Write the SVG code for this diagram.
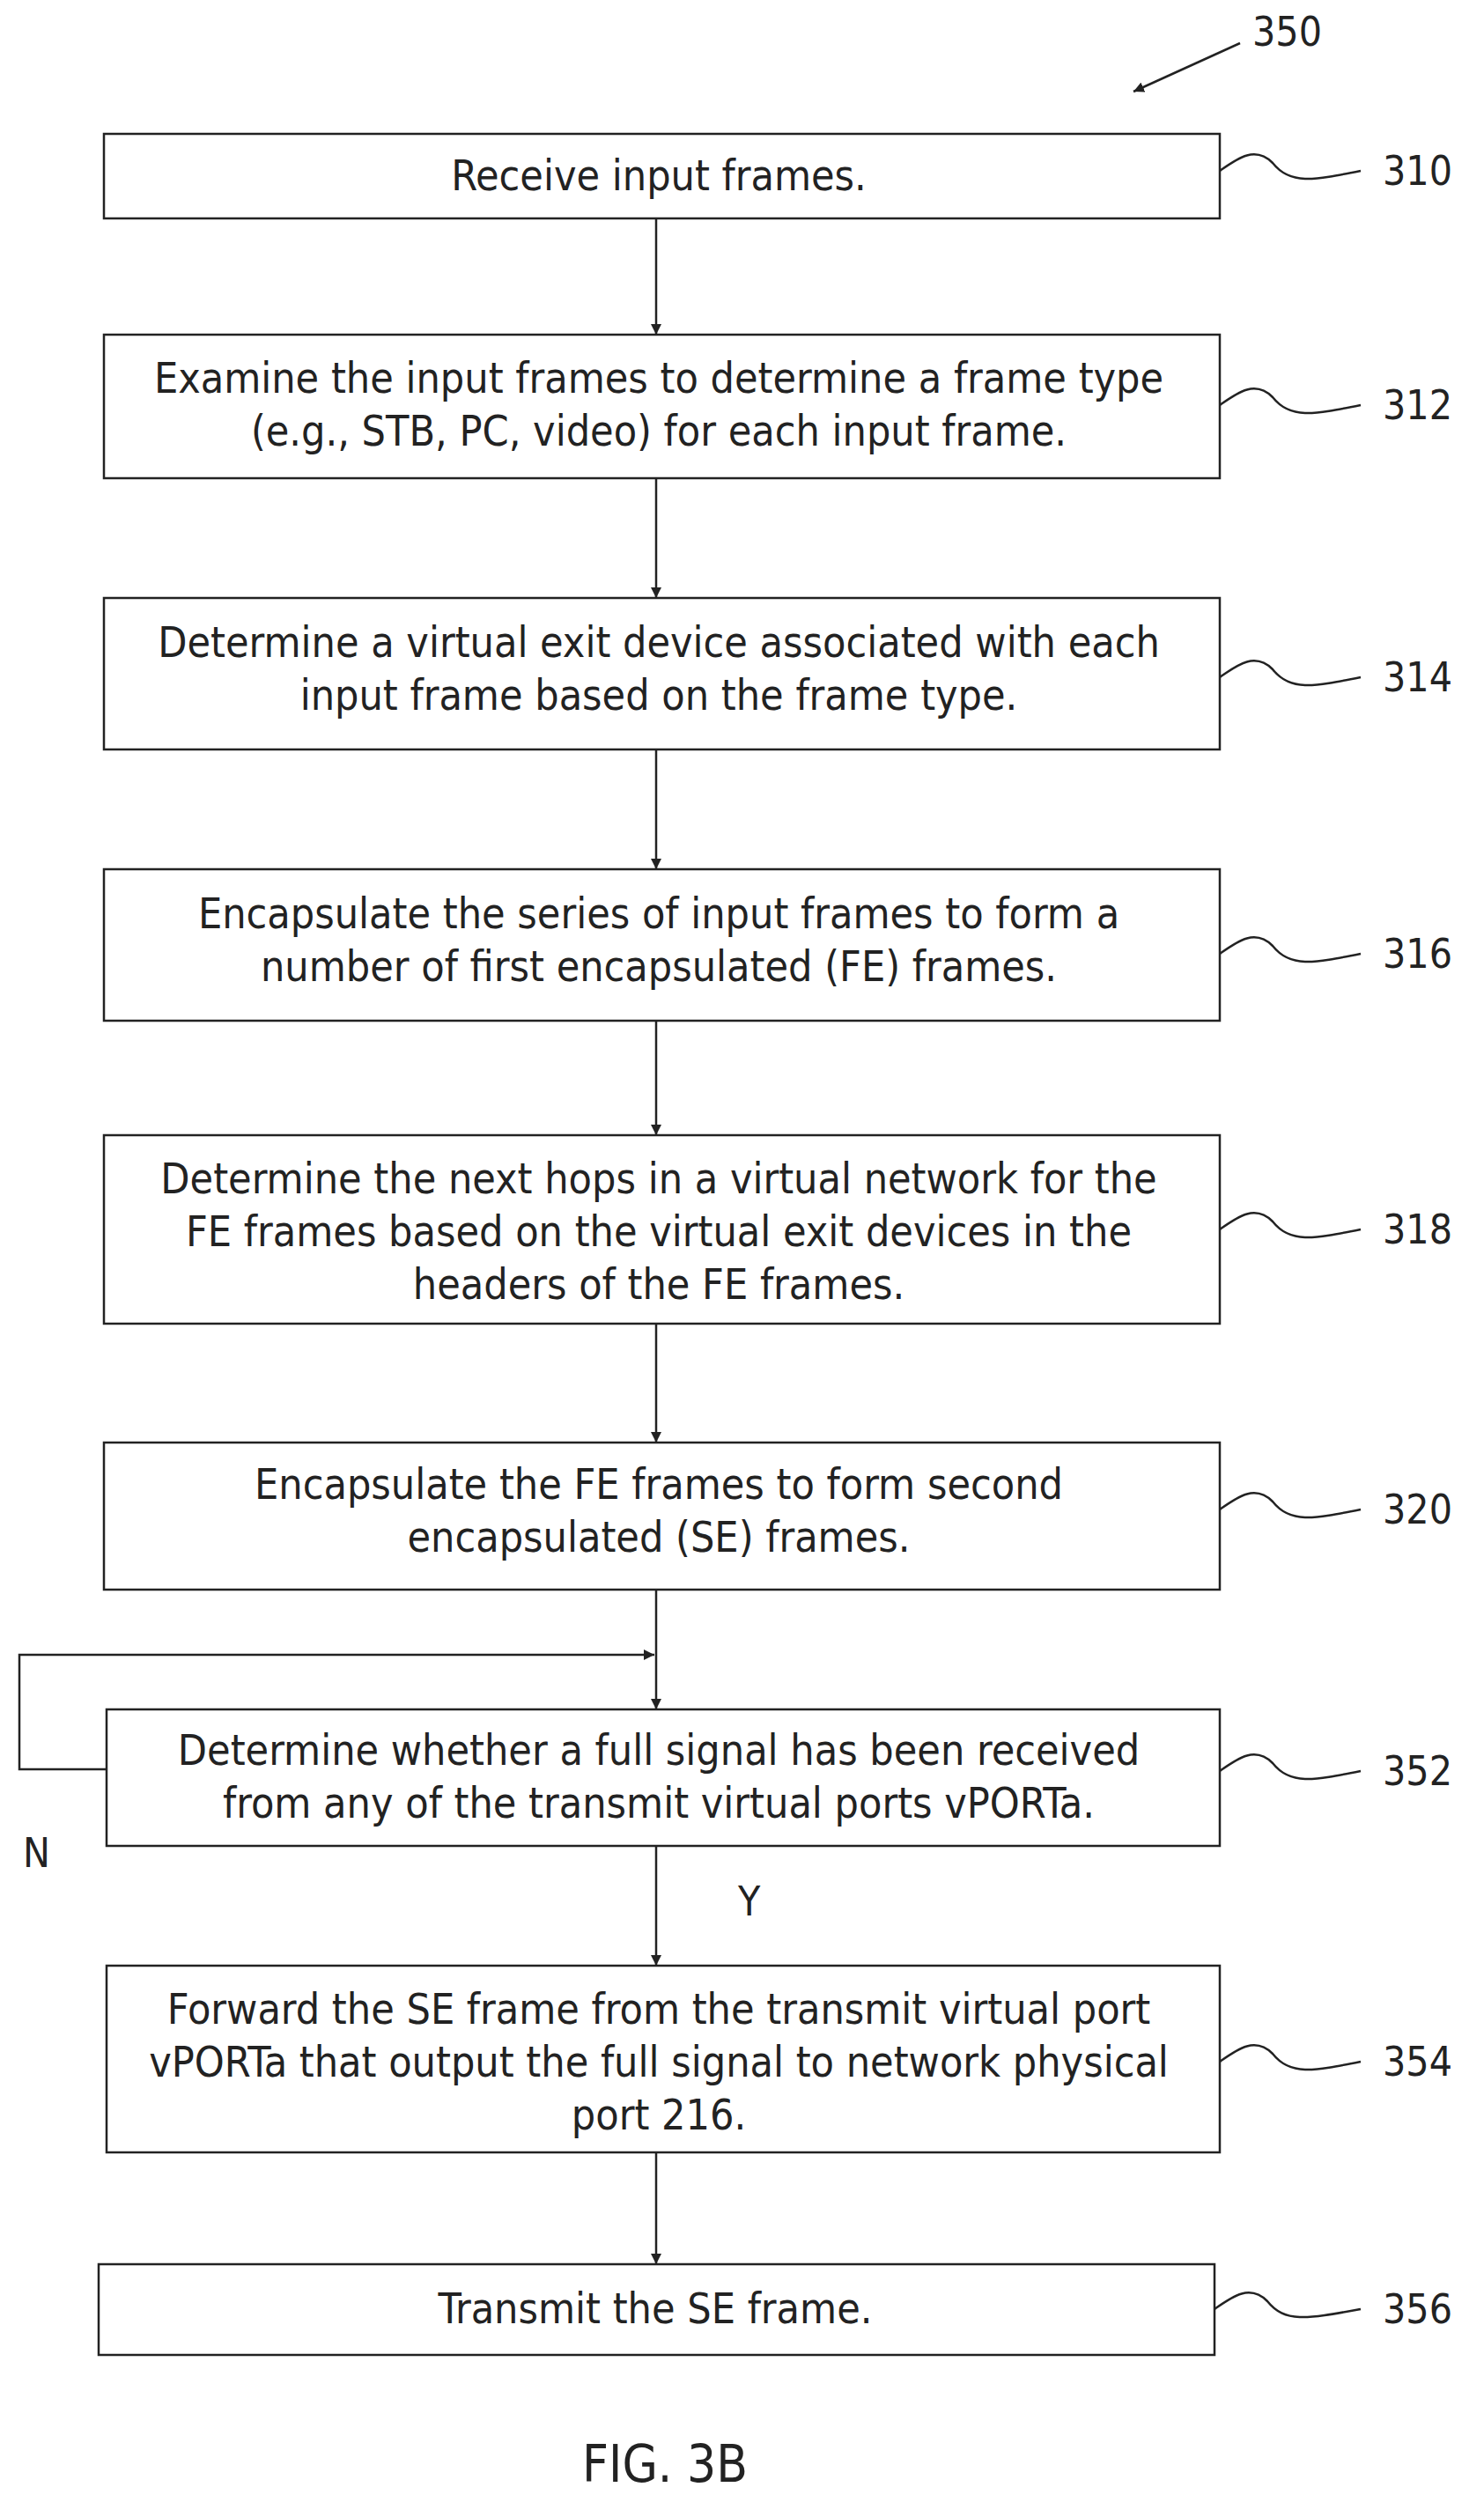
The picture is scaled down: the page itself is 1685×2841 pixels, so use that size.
<svg xmlns="http://www.w3.org/2000/svg" width="1685" height="2841" viewBox="0 0 1685 2841">
<style>
.box{fill:#fff;stroke:#222;stroke-width:2.5}
.t{font-family:"DejaVu Sans Condensed","DejaVu Sans",sans-serif;font-size:48px;fill:#222;text-anchor:middle}
.l{font-family:"DejaVu Sans Condensed","DejaVu Sans",sans-serif;font-size:46px;fill:#222}
.c{fill:none;stroke:#222;stroke-width:2.5}
</style>
<defs><marker id="a" markerWidth="12" markerHeight="12" refX="10" refY="5" orient="auto" markerUnits="userSpaceOnUse" viewBox="0 0 10 10"><path d="M0,0 L10,5 L0,10 z" fill="#222"/></marker></defs>
<g id="n350"><path class="c" d="M1408,49 L1287,104" marker-end="url(#a)"/><text class="l" x="1422" y="52">350</text></g>
<g id="n310"><rect class="box" x="118" y="152" width="1267" height="96"/><text class="t" x="748" y="216">Receive input frames.</text><path class="c" d="M1385,194 C1405,180 1425,165 1445,185 C1465,210 1490,205 1545,194"/><text class="l" x="1570" y="210">310</text></g>
<g id="n312"><rect class="box" x="118" y="380" width="1267" height="163"/><text class="t" x="748" y="446">Examine the input frames to determine a frame type</text><text class="t" x="748" y="506">(e.g., STB, PC, video) for each input frame.</text><path class="c" d="M1385,460 C1405,446 1425,431 1445,451 C1465,476 1490,471 1545,460"/><text class="l" x="1570" y="476">312</text></g>
<g id="n314"><rect class="box" x="118" y="679" width="1267" height="172"/><text class="t" x="748" y="746">Determine a virtual exit device associated with each</text><text class="t" x="748" y="806">input frame based on the frame type.</text><path class="c" d="M1385,769 C1405,755 1425,740 1445,760 C1465,785 1490,780 1545,769"/><text class="l" x="1570" y="785">314</text></g>
<g id="n316"><rect class="box" x="118" y="987" width="1267" height="172"/><text class="t" x="748" y="1054">Encapsulate the series of input frames to form a</text><text class="t" x="748" y="1114">number of first encapsulated (FE) frames.</text><path class="c" d="M1385,1083 C1405,1069 1425,1054 1445,1074 C1465,1099 1490,1094 1545,1083"/><text class="l" x="1570" y="1099">316</text></g>
<g id="n318"><rect class="box" x="118" y="1289" width="1267" height="214"/><text class="t" x="748" y="1355">Determine the next hops in a virtual network for the</text><text class="t" x="748" y="1415">FE frames based on the virtual exit devices in the</text><text class="t" x="748" y="1475">headers of the FE frames.</text><path class="c" d="M1385,1396 C1405,1382 1425,1367 1445,1387 C1465,1412 1490,1407 1545,1396"/><text class="l" x="1570" y="1412">318</text></g>
<g id="n320"><rect class="box" x="118" y="1638" width="1267" height="167"/><text class="t" x="748" y="1702">Encapsulate the FE frames to form second</text><text class="t" x="748" y="1762">encapsulated (SE) frames.</text><path class="c" d="M1385,1714 C1405,1700 1425,1685 1445,1705 C1465,1730 1490,1725 1545,1714"/><text class="l" x="1570" y="1730">320</text></g>
<g id="n352"><rect class="box" x="121" y="1941" width="1264" height="155"/><text class="t" x="748" y="2004">Determine whether a full signal has been received</text><text class="t" x="748" y="2064">from any of the transmit virtual ports vPORTa.</text><path class="c" d="M1385,2011 C1405,1997 1425,1982 1445,2002 C1465,2027 1490,2022 1545,2011"/><text class="l" x="1570" y="2027">352</text></g>
<g id="n354"><rect class="box" x="121" y="2232" width="1264" height="212"/><text class="t" x="748" y="2298">Forward the SE frame from the transmit virtual port</text><text class="t" x="748" y="2358">vPORTa that output the full signal to network physical</text><text class="t" x="748" y="2418">port 216.</text><path class="c" d="M1385,2341 C1405,2327 1425,2312 1445,2332 C1465,2357 1490,2352 1545,2341"/><text class="l" x="1570" y="2357">354</text></g>
<g id="n356"><rect class="box" x="112" y="2571" width="1267" height="103"/><text class="t" x="744" y="2638">Transmit the SE frame.</text><path class="c" d="M1379,2622 C1399,2608 1419,2593 1439,2613 C1459,2638 1484,2633 1545,2622"/><text class="l" x="1570" y="2638">356</text></g>
<g id="connectors">
<path class="c" d="M745,248 V380" marker-end="url(#a)"/>
<path class="c" d="M745,543 V679" marker-end="url(#a)"/>
<path class="c" d="M745,851 V987" marker-end="url(#a)"/>
<path class="c" d="M745,1159 V1289" marker-end="url(#a)"/>
<path class="c" d="M745,1503 V1638" marker-end="url(#a)"/>
<path class="c" d="M745,1805 V1941" marker-end="url(#a)"/>
<path class="c" d="M121,2009 H22 V1879 H743" marker-end="url(#a)"/>
<path class="c" d="M745,2096 V2232" marker-end="url(#a)"/>
<path class="c" d="M745,2444 V2571" marker-end="url(#a)"/>
<text class="l" x="26" y="2120">N</text>
<text class="l" x="838" y="2175">Y</text>
</g>
<text class="l" x="755" y="2818" text-anchor="middle" style="font-size:58px">FIG. 3B</text>
</svg>
